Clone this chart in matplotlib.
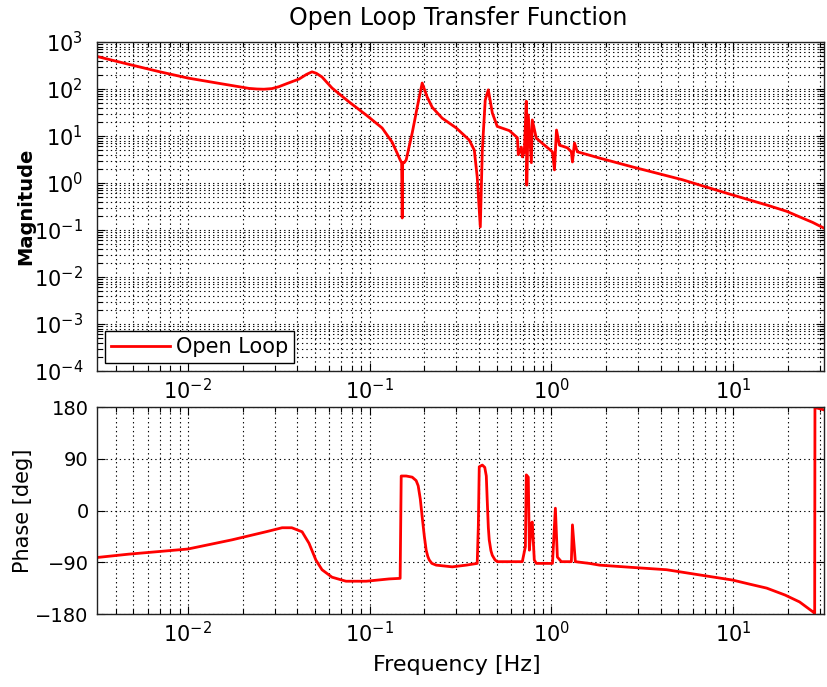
import matplotlib
matplotlib.use("Agg")
import matplotlib.pyplot as plt
from matplotlib.ticker import LogLocator, NullFormatter, FixedLocator

# --- Open loop magnitude (frequency in Hz, |G|) ---
mag_freq = [0.00311, 0.00473, 0.00692, 0.0100, 0.0148, 0.0217, 0.0240, 0.0262,
            0.0290, 0.0317, 0.0350, 0.0409, 0.0450, 0.0482, 0.0510, 0.0547,
            0.0621, 0.0771, 0.0957, 0.1172, 0.1330, 0.1418, 0.1472, 0.1500,
            0.1511, 0.1520, 0.1549, 0.1589, 0.1715, 0.1828, 0.1946, 0.2075,
            0.2208, 0.2506, 0.2999, 0.3532, 0.3767, 0.3908, 0.4064, 0.4169,
            0.4325, 0.4498, 0.4732, 0.5035, 0.5875, 0.6501, 0.6577, 0.6839,
            0.6918, 0.7096, 0.7278, 0.7320, 0.7464, 0.7762, 0.7852, 0.8260,
            0.8910, 0.9600, 1.014, 1.040, 1.067, 1.107, 1.225, 1.288, 1.306,
            1.340, 1.390, 1.483, 1.837, 2.792, 3.80, 5.272, 7.20, 9.94, 12.3,
            15.31, 19.7, 23.23, 27.4, 31.55]
mag_vals = [500, 335, 235, 171, 132, 103, 100, 99,
            102, 112, 130, 163, 205, 232, 215, 180,
            105, 53, 28, 14.8, 7.4, 4.3, 3.1, 2.7,
            0.18, 2.7, 2.7, 3.1, 11.6, 41, 134, 67,
            41, 24, 14.8, 8.2, 5.0, 1.34, 0.116, 5.0,
            58, 96, 31, 16, 13, 9.2, 4.0, 5.8,
            3.6, 4.6, 55, 0.9, 28, 2.7, 22, 9.0,
            7.0, 5.5, 4.6, 1.9, 13.4, 6.4, 5.6, 4.6, 2.8,
            7.1, 4.6, 4.3, 3.4, 2.2, 1.62, 1.17, 0.81, 0.556, 0.436,
            0.34, 0.25, 0.19, 0.145, 0.11]

# --- Open loop phase (frequency in Hz, degrees) ---
ph_freq = [0.00311, 0.0047, 0.0100, 0.0175, 0.0269, 0.0330, 0.0373, 0.0425,
           0.0464, 0.0506, 0.0547, 0.0621, 0.0741, 0.0957, 0.1280, 0.1472,
           0.1492, 0.1589, 0.1715, 0.1803, 0.1850, 0.1900, 0.1946, 0.2000,
           0.2047, 0.2090, 0.2128, 0.2200, 0.2324, 0.2849, 0.3404, 0.3908,
           0.3963, 0.4010, 0.4169, 0.4300, 0.4385, 0.4436, 0.4500, 0.4550,
           0.4650, 0.4732, 0.4900, 0.5035, 0.6918, 0.7194, 0.7278, 0.7464,
           0.7568, 0.7762, 0.7852, 0.8054, 0.8260, 1.014, 1.052, 1.079,
           1.135, 1.288, 1.306, 1.355, 1.618, 1.837, 2.792, 4.303, 6.531,
           9.94, 12.3, 15.31, 19.3, 23.2, 27.42, 28.1, 28.2, 30.8, 31.55]
ph_vals = [-82, -76, -67, -51, -37, -30, -30, -37,
           -57, -86, -103, -116, -123, -123, -119, -118,
           60, 60, 58, 52, 43, 20, -11, -45,
           -69, -80, -86, -92, -95, -98, -95, -92,
           -28, 76, 79, 75, 60, 18, -30, -51,
           -70, -78, -86, -89, -89, -63, 62, 58,
           -69, -22, -20, -86, -92, -92, 4, -81,
           -89, -89, -25, -89, -92, -95, -99, -103, -112,
           -121, -128, -135, -147, -159, -176, -179, 179, 176, 175]

xlim = (10 ** -2.5, 10 ** 1.5)
mag_ylim = (1e-4, 1e3)
phase_ticks = [-180, -90, 0, 90, 180]

plt.rcParams['font.family'] = ['DejaVu Sans']
plt.rcParams['mathtext.fontset'] = 'dejavusans'

fig = plt.figure(figsize=(8.27, 6.87), dpi=100)
W, H = 827, 687
ax1 = fig.add_axes([97 / W, 1 - 371 / H, 727 / W, 329 / H])
ax2 = fig.add_axes([97 / W, 1 - 614 / H, 727 / W, 207 / H])

grid_kw = dict(color='k', linestyle=(0, (1.2, 2.8)), linewidth=0.8)
red = '#ff0000'

# Magnitude panel
ax1.loglog(mag_freq, mag_vals, color=red, linewidth=2.0, label='Open Loop')
ax1.set_xlim(*xlim)
ax1.set_ylim(*mag_ylim)
ax1.yaxis.set_major_locator(LogLocator(base=10, numticks=20))
ax1.yaxis.set_minor_locator(LogLocator(base=10, subs=range(2, 10), numticks=100))
ax1.yaxis.set_minor_formatter(NullFormatter())
ax1.grid(True, which='both', **grid_kw)
ax1.set_ylabel('Magnitude', fontsize=14, fontweight='bold')
ax1.yaxis.set_label_coords(-0.085, 0.5)
leg = ax1.legend(loc='lower left', fontsize=15, fancybox=False, framealpha=1,
                 edgecolor='k', borderpad=0.3, borderaxespad=0.38,
                 handlelength=2.8, handletextpad=0.3)
leg.get_frame().set_linewidth(1.0)

# Phase panel
ax2.semilogx(ph_freq, ph_vals, color=red, linewidth=2.0)
ax2.set_xlim(*xlim)
ax2.set_ylim(-180, 180)
ax2.yaxis.set_major_locator(FixedLocator(phase_ticks))
ax2.grid(True, which='major', axis='y', **grid_kw)
ax2.grid(True, which='both', axis='x', **grid_kw)
ax2.set_ylabel('Phase [deg]', fontsize=15)
ax2.yaxis.set_label_coords(-0.088, 0.5)
ax2.set_xlabel('Frequency [Hz]', fontsize=16)
ax2.xaxis.set_label_coords(0.495, -0.20)

for ax in (ax1, ax2):
    ax.xaxis.set_major_locator(LogLocator(base=10, numticks=20))
    ax.xaxis.set_minor_locator(LogLocator(base=10, subs=range(2, 10), numticks=100))
    ax.xaxis.set_minor_formatter(NullFormatter())
    ax.tick_params(which='both', direction='in', top=True, right=True,
                   labelsize=15, width=0.8)
    ax.tick_params(which='major', length=6)
    ax.tick_params(which='minor', length=3.5)
    ax.tick_params(axis='x', pad=5)
    for s in ax.spines.values():
        s.set_linewidth(1.0)
        s.set_color('#222222')

ax1.tick_params(axis='y', pad=10)
ax2.tick_params(axis='y', pad=6, labelsize=14)

fig.text(458 / W, 1 - 18 / H, 'Open Loop Transfer Function', fontsize=17,
         ha='center', va='center')

fig.savefig('out.png', dpi=100)
